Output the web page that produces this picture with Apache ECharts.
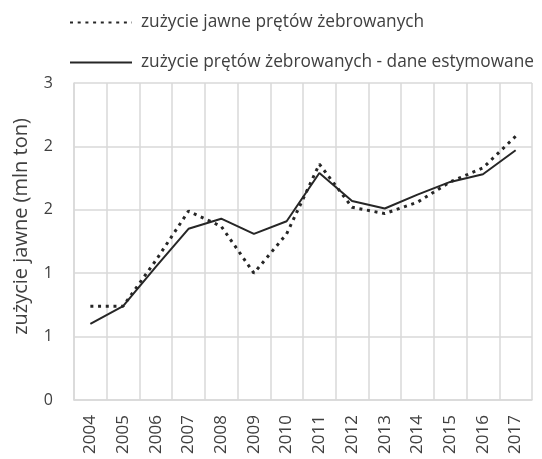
<!DOCTYPE html>
<html>
<head>
<meta charset="utf-8">
<script src="https://cdn.jsdelivr.net/npm/echarts@6/dist/echarts.min.js"></script>
<style>
  html, body { margin: 0; padding: 0; background: #fff; }
  #main { width: 542px; height: 459px; }
</style>
</head>
<body>
<div id="main"></div>
<script>
// lata
var years = ['2004', '2005', '2006', '2007', '2008', '2009', '2010', '2011', '2012', '2013', '2014', '2015', '2016', '2017'];
// zużycie jawne (mln ton)
var jawne = [0.74, 0.74, 1.1, 1.49, 1.37, 1.0, 1.31, 1.86, 1.52, 1.47, 1.56, 1.72, 1.83, 2.08];
// dane estymowane
var estymowane = [0.6, 0.74, 1.05, 1.35, 1.43, 1.31, 1.41, 1.79, 1.57, 1.51, 1.62, 1.72, 1.78, 1.97];

var myChart = echarts.init(document.getElementById('main'));
var txt = '#404040';
var font = 'Open Sans';

myChart.setOption({
    backgroundColor: '#fff',
    animation: false,
    legend: {
        orient: 'vertical',
        left: 64,
        top: 9,
        itemWidth: 62,
        itemHeight: 18,
        itemGap: 23,
        itemStyle: { opacity: 0 },
        textStyle: { color: txt, fontSize: 17.3, fontFamily: font, padding: [0, 0, 0, 4] },
        data: ['zużycie jawne prętów żebrowanych', 'zużycie prętów żebrowanych - dane estymowane']
    },
    grid: { left: 74, right: 10, top: 83, bottom: 59 },
    xAxis: {
        type: 'category',
        data: years,
        boundaryGap: true,
        axisLine: { lineStyle: { color: '#d9d9d9', width: 1.5 } },
        axisTick: { show: false },
        axisLabel: { rotate: 90, color: txt, fontSize: 17, margin: 15, fontFamily: font, interval: 0 },
        splitLine: { show: true, interval: 0, lineStyle: { color: '#d9d9d9', width: 1.5 } }
    },
    yAxis: {
        type: 'value',
        min: 0,
        max: 2.5,
        interval: 0.5,
        name: 'zużycie jawne (mln ton)',
        nameLocation: 'middle',
        nameGap: 43,
        nameTextStyle: { color: txt, fontSize: 20, fontFamily: font, padding: [0, 0, 0, 30] },
        axisLine: { show: true, lineStyle: { color: '#d9d9d9', width: 1.5 } },
        axisTick: { show: false },
        axisLabel: {
            color: txt, fontSize: 16, margin: 21, fontFamily: font,
            formatter: function (v) { return String(Math.round(v)); }
        },
        splitLine: { lineStyle: { color: '#d9d9d9', width: 1.5 } }
    },
    series: [
        {
            name: 'zużycie jawne prętów żebrowanych',
            type: 'line',
            data: jawne,
            symbol: 'none',
            lineStyle: { color: '#262626', width: 3, type: [3, 4.7] },
            itemStyle: { color: '#262626' }
        },
        {
            name: 'zużycie prętów żebrowanych - dane estymowane',
            type: 'line',
            data: estymowane,
            symbol: 'none',
            lineStyle: { color: '#262626', width: 2 },
            itemStyle: { color: '#262626' }
        }
    ]
});
</script>
</body>
</html>
